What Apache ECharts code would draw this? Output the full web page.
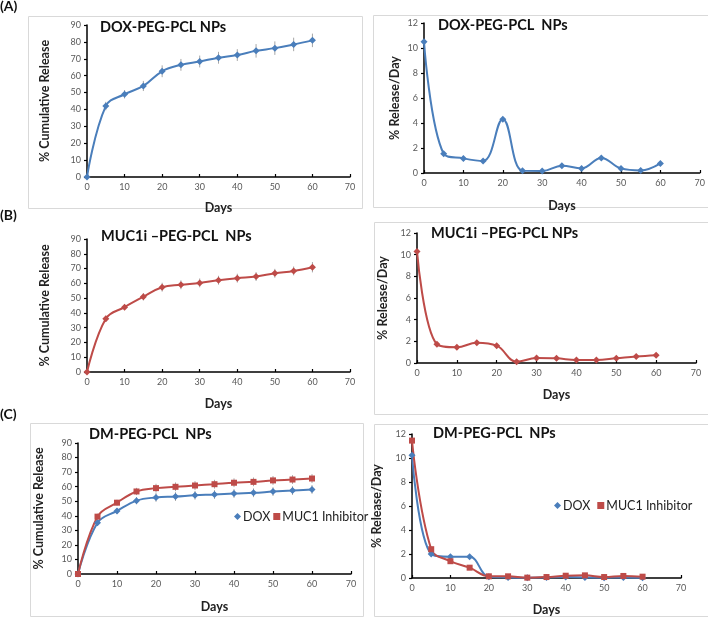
<!DOCTYPE html>
<html>
<head>
<meta charset="utf-8">
<script src="https://cdn.jsdelivr.net/npm/echarts@6/dist/echarts.min.js"></script>
<style>
html,body{margin:0;padding:0;background:#fff;}
#c{width:708px;height:617px;}
</style>
</head>
<body>
<div id="c"></div>
<script>
const days = [0, 5, 10, 15, 20, 25, 30, 35, 40, 45, 50, 55, 60];
const xTicks = [0, 10, 20, 30, 40, 50, 60, 70];

const aCum = [0, 42, 49, 53.9, 62.6, 66.4, 68.4, 70.6, 72.2, 74.7, 76.3, 78.5, 80.9];
const aCumErr = [0, 2.5, 2.5, 3, 3.5, 3.5, 3.5, 3.5, 3.5, 4, 4, 4, 4];
const aDay = [10.5, 1.54, 1.17, 0.96, 4.31, 0.19, 0.16, 0.59, 0.37, 1.2, 0.37, 0.21, 0.77];

const bCum = [0, 36, 43.9, 50.9, 57.4, 59, 60.3, 62.1, 63.5, 64.6, 66.8, 68.4, 70.9];
const bCumErr = [0, 2, 2, 2.5, 3, 3, 3, 3, 3, 3, 3, 3, 3.5];
const bDay = [10.3, 1.73, 1.45, 1.88, 1.6, 0.12, 0.46, 0.43, 0.28, 0.28, 0.43, 0.59, 0.71];

const cDoxCum = [0, 35.2, 43.3, 50.4, 52.6, 53.2, 54.1, 54.6, 55.3, 55.8, 56.6, 57.3, 58.1];
const cDoxErr = [0, 2, 2, 2.5, 3, 3, 3, 3, 3, 3, 3, 3, 3];
const cMucCum = [0, 39.4, 49, 56.7, 59, 59.9, 60.8, 61.7, 62.7, 63.3, 64.3, 64.9, 65.6];
const cMucErr = [0, 2, 2, 2.5, 3, 3, 3, 3, 3, 3, 3, 3, 3];
const cDoxDay = [10.23, 2.0, 1.77, 1.77, 0.1, 0.05, 0.03, 0.05, 0.08, 0.05, 0.03, 0.05, 0.03];
const cMucDay = [11.45, 2.4, 1.4, 0.86, 0.14, 0.14, 0.03, 0.08, 0.19, 0.22, 0.08, 0.17, 0.11];

const titles = ['DOX-PEG-PCL NPs', 'DOX-PEG-PCL  NPs', 'MUC1i \u2013PEG-PCL  NPs', 'MUC1i \u2013PEG-PCL NPs', 'DM-PEG-PCL  NPs', 'DM-PEG-PCL  NPs'];
const panelLabels = ['(A)', '(B)', '(C)'];
const yNameCum = '% Cumulative Release';
const yNameDay = '% Release/Day';
const xName = 'Days';
const legendNames = ['DOX', 'MUC1 Inhibitor'];

const BLUE = '#4a7ebb';
const RED = '#be4b48';
const FONT = 'Lato, "Open Sans", sans-serif';

const grids = [
  {left: 87, top: 25, width: 263, height: 152, yMax: 90, yInt: 10, yName: yNameCum, yGap: 36, xGap: 24},
  {left: 424, top: 23, width: 277, height: 150, yMax: 12, yInt: 2, yName: yNameDay, yGap: 23, xGap: 26},
  {left: 87, top: 239, width: 263, height: 133, yMax: 90, yInt: 10, yName: yNameCum, yGap: 36, xGap: 25},
  {left: 417, top: 233, width: 279, height: 130, yMax: 12, yInt: 2, yName: yNameDay, yGap: 28, xGap: 25},
  {left: 78, top: 443, width: 273, height: 131, yMax: 90, yInt: 10, yName: yNameCum, yGap: 33, xGap: 26},
  {left: 412, top: 434, width: 269, height: 145, yMax: 12, yInt: 2, yName: yNameDay, yGap: 29, xGap: 25}
];
const titlePos = [[100, 27], [438, 25], [101, 236], [431, 233], [89, 434], [433, 433]];

function pairs(ys) { return days.map((d, i) => [d, ys[i]]); }
function errData(ys, es) { return days.map((d, i) => [d, ys[i] - es[i], ys[i] + es[i]]); }

const axisLabelStyle = {color: '#595959', fontSize: 9, fontFamily: FONT, margin: 6};

const xAxis = grids.map((g, i) => ({
  gridIndex: i, type: 'value', min: 0, max: 70, interval: 10,
  name: xName, nameLocation: 'middle', nameGap: g.xGap,
  nameTextStyle: {fontWeight: 'bold', fontSize: 12.5, color: '#222', fontFamily: FONT},
  axisLine: {show: true, onZero: false, lineStyle: {color: '#000', width: 1.5}},
  axisTick: {show: true, inside: true, length: 3, lineStyle: {color: '#000', width: 1.2}},
  splitLine: {show: false},
  axisLabel: axisLabelStyle
}));
const yAxis = grids.map((g, i) => ({
  gridIndex: i, type: 'value', min: 0, max: g.yMax, interval: g.yInt,
  name: g.yName, nameLocation: 'middle', nameGap: g.yGap, nameRotate: 90,
  nameTextStyle: {fontWeight: 'bold', fontSize: 12.5, color: '#222', fontFamily: FONT},
  axisLine: {show: true, lineStyle: {color: '#000', width: 1.5}},
  axisTick: {show: true, length: 3, lineStyle: {color: '#000', width: 1.2}},
  splitLine: {show: false},
  axisLabel: axisLabelStyle
}));

function lineSeries(idx, name, ys, color, symbol, size) {
  return {
    type: 'line', name: name, xAxisIndex: idx, yAxisIndex: idx,
    data: pairs(ys), smooth: 0.4, symbol: symbol, symbolSize: size,
    itemStyle: {color: color}, lineStyle: {color: color, width: 2},
    z: 3
  };
}
function errSeries(idx, ys, es) {
  return {
    type: 'custom', xAxisIndex: idx, yAxisIndex: idx, data: errData(ys, es),
    silent: true, z: 2,
    renderItem: function (params, api) {
      const lo = api.coord([api.value(0), api.value(1)]);
      const hi = api.coord([api.value(0), api.value(2)]);
      return {type: 'line', shape: {x1: lo[0], y1: lo[1], x2: hi[0], y2: hi[1]},
        style: {stroke: '#a6a6a6', lineWidth: 1}};
    }
  };
}

const series = [
  errSeries(0, aCum, aCumErr),
  lineSeries(0, 'A cumulative', aCum, BLUE, 'diamond', 7),
  lineSeries(1, 'A daily', aDay, BLUE, 'diamond', 7),
  errSeries(2, bCum, bCumErr),
  lineSeries(2, 'B cumulative', bCum, RED, 'diamond', 7),
  lineSeries(3, 'B daily', bDay, RED, 'diamond', 7),
  errSeries(4, cDoxCum, cDoxErr),
  errSeries(4, cMucCum, cMucErr),
  lineSeries(4, legendNames[0], cDoxCum, BLUE, 'diamond', 7),
  lineSeries(4, legendNames[1], cMucCum, RED, 'rect', 6),
  lineSeries(5, legendNames[0], cDoxDay, BLUE, 'diamond', 7),
  lineSeries(5, legendNames[1], cMucDay, RED, 'rect', 6)
];

const frameStyle = {fill: 'none', stroke: '#d9d9d9', lineWidth: 1};
const frames = [
  [28.5, 16.5, 334, 192],
  [373.5, 15.5, 340, 192],
  [374.5, 222.5, 340, 192],
  [30.5, 423.5, 333, 193],
  [374.5, 424.5, 340, 192]
];
const graphic = frames.map(f => ({type: 'rect', shape: {x: f[0], y: f[1], width: f[2], height: f[3]}, style: frameStyle, silent: true, z: -1}));
const labelY = [7, 216, 415];
panelLabels.forEach((t, i) => graphic.push({type: 'text', left: 0, top: labelY[i] - 8,
  style: {text: t, font: 'bold 14px ' + FONT, fill: '#111'}}));
titles.forEach((t, i) => graphic.push({type: 'text', x: titlePos[i][0], y: titlePos[i][1],
  style: {text: t, font: 'bold 14.5px ' + FONT, fill: '#111', textVerticalAlign: 'middle'}}));

const legendStyle = {fontSize: 12.5, color: '#222', fontFamily: FONT, padding: [0, 0, 0, -3]};
const option = {
  animation: false,
  grid: grids.map(g => ({left: g.left, top: g.top, width: g.width, height: g.height, containLabel: false})),
  xAxis: xAxis, yAxis: yAxis, series: series, graphic: graphic,
  legend: [
    {data: [{name: legendNames[0], icon: 'diamond'}, {name: legendNames[1], icon: 'rect'}], left: 232, top: 508,
      padding: 2, itemWidth: 7, itemHeight: 7, itemGap: 3, textStyle: legendStyle},
    {data: [{name: legendNames[0], icon: 'diamond'}, {name: legendNames[1], icon: 'rect'}], left: 552, top: 497,
      padding: 2, itemWidth: 7, itemHeight: 7, itemGap: 7, textStyle: legendStyle}
  ]
};
const chart = echarts.init(document.getElementById('c'), null, {renderer: 'canvas'});
chart.setOption(option);
</script>
</body>
</html>
